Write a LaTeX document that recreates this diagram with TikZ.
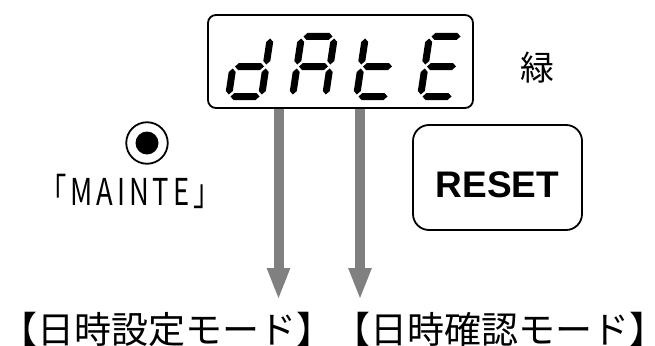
\documentclass[tikz,border=0pt]{standalone}
\usepackage{fontspec}
\newfontfamily\jpfont{Noto Sans CJK JP}
\newfontfamily\jpwidefont[LetterSpace=14]{Noto Sans CJK JP}
\newfontfamily\arialfont{Liberation Sans}
\usetikzlibrary{arrows.meta, positioning}

% hexagonal segments of a seven segment digit
\newcommand\hseg[3]{% x1, x2, y
  \fill (#1+\segG,#3) -- (#1+\segG+\segT/2,#3-\segT/2) -- (#2-\segG-\segT/2,#3-\segT/2)
    -- (#2-\segG,#3) -- (#2-\segG-\segT/2,#3+\segT/2) -- (#1+\segG+\segT/2,#3+\segT/2) -- cycle;}
\newcommand\vseg[3]{% x, y lower, y upper
  \fill (#1,#2-\segG) -- (#1-\segT/2,#2-\segG-\segT/2) -- (#1-\segT/2,#3+\segG+\segT/2)
    -- (#1,#3+\segG) -- (#1+\segT/2,#3+\segG+\segT/2) -- (#1+\segT/2,#2-\segG-\segT/2) -- cycle;}
\newcommand\sega{\hseg{0}{\digW}{-\digH}}
\newcommand\segb{\vseg{\digW}{-\digH/2}{-\digH}}
\newcommand\segc{\vseg{\digW}{0}{-\digH/2}}
\newcommand\segd{\hseg{0}{\digW}{0}}
\newcommand\sege{\vseg{0}{0}{-\digH/2}}
\newcommand\segf{\vseg{0}{-\digH/2}{-\digH}}
\newcommand\segg{\hseg{0}{\digW}{-\digH/2}}

\tikzset{
  dispbox/.style={draw, rounded corners=8pt, line width=1.8pt, minimum width=265pt, minimum height=93pt},
  resetbox/.style={draw, rounded corners=16pt, line width=1.8pt, minimum width=169pt, minimum height=105pt},
  modearrow/.style={draw=gray, line width=10pt, -{Triangle[width=21pt, length=32pt]}},
  modetext/.style={inner sep=0pt, font=\jpfont\fontsize{37}{37}\selectfont},
  digit/.style={xslant=0.15}
}

\begin{document}
\begin{tikzpicture}[x=1pt, y=-1pt]
    \useasboundingbox (0,0) rectangle (655,345);
    \def\digW{33} % digit width
    \def\digH{60} % digit height
    \def\segT{7} % segment thickness
    \def\segG{2} % gap between segments

    % arrows to the two modes
    \coordinate (setTip) at (278.5,300);
    \coordinate (checkTip) at (360,300);
    \draw[modearrow] (setTip |- 0,108) -- (setTip);
    \draw[modearrow] (checkTip |- 0,108) -- (checkTip);

    % display
    \node[dispbox] (disp) at (340.5,61.5) {};
    \begin{scope}[shift={(228.5,96.5)}, digit] % d
        \segb \segc \segd \sege \segg
    \end{scope}
    \begin{scope}[shift={(292.5,96.5)}, digit] % A
        \sega \segb \segc \sege \segf \segg
    \end{scope}
    \begin{scope}[shift={(356.5,96.5)}, digit] % t
        \segd \sege \segf \segg
    \end{scope}
    \begin{scope}[shift={(420.5,96.5)}, digit] % E
        \sega \segd \sege \segf \segg
    \end{scope}
    \node[font=\jpfont\fontsize{34}{34}\selectfont] (ledColor) at (537,68) {緑};

    % MAINTE switch
    \node[draw, circle, line width=1.8pt, minimum size=41.5pt] (mainte) at (147,143) {};
    \fill (mainte.center) circle (11.5pt);
    \node[font=\jpwidefont\fontsize{37}{37}\selectfont] (mainteLabel) at (130,191)
        {\scalebox{0.74}[1]{「MAINTE」}};

    % RESET button
    \node[resetbox] (reset) at (497.5,177.5) {};
    \node[font=\arialfont\bfseries\fontsize{37}{37}\selectfont] (resetLabel) at ([yshift=-7pt]reset.center) {RESET};

    % modes
    \node[modetext, anchor=base west] (setMode) at (0,343) {【日時設定モード】};
    \node[modetext, anchor=base west] (checkMode) at (setMode.base east) {【日時確認モード】};
\end{tikzpicture}
\end{document}
